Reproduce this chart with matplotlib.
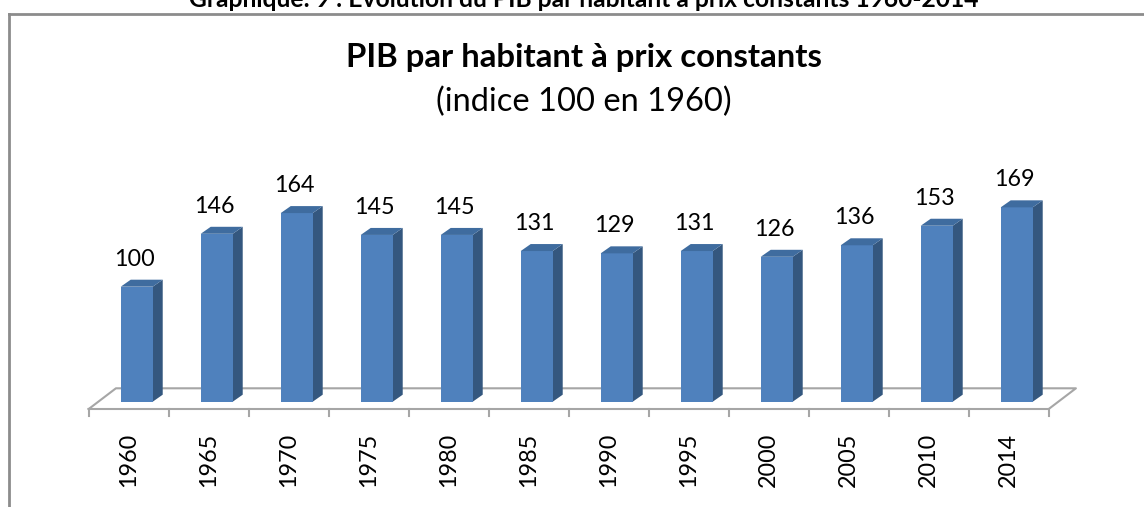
import matplotlib
matplotlib.use("Agg")
import matplotlib.pyplot as plt
from matplotlib.patches import Polygon
from matplotlib.lines import Line2D

years = ["1960", "1965", "1970", "1975", "1980", "1985",
         "1990", "1995", "2000", "2005", "2010", "2014"]
values = [100, 146, 164, 145, 145, 131, 129, 131, 126, 136, 153, 169]

FRONT = "#4F81BD"
SIDE = "#34577F"
TOP = "#3F6C9F"
GRID = "#A6A6A6"

plt.rcParams["font.family"] = ["Lato", "DejaVu Sans"]

fig = plt.figure(figsize=(11.44, 5.07), dpi=100)
ax = fig.add_axes([0, 0, 1, 1])
ax.set_xlim(-1.709, 12.591)
ax.set_ylim(-91.57, 349.3)
ax.axis("off")

bar_w = 0.4
dx, dy = 0.125, 6.09          # bar depth (x units, value units)
fdx, fdy = 0.34, 18.0         # floor depth
floor_y = -6.35
n = len(values)
x = list(range(n))

# floor
x0, x1 = -0.6, n - 0.6
floor = [(x0, floor_y), (x1, floor_y), (x1 + fdx, floor_y + fdy),
         (x0 + fdx, floor_y + fdy), (x0, floor_y)]
ax.plot([p[0] for p in floor], [p[1] for p in floor], color=GRID, lw=1.5, zorder=1)
for k in range(n + 1):
    ax.plot([x0 + k, x0 + k], [floor_y, floor_y - 6.0], color=GRID, lw=1.5, zorder=1)

# bars: front faces through ax.bar, side and top from the same data
ax.bar(x, values, width=bar_w, color=FRONT, zorder=3)
for i, v in zip(x, values):
    l, r = i - bar_w / 2, i + bar_w / 2
    side = [(r, 0), (r + dx, dy), (r + dx, v + dy), (r, v)]
    top = [(l, v), (r, v), (r + dx, v + dy), (l + dx, v + dy)]
    ax.add_patch(Polygon(side, closed=True, facecolor=SIDE, edgecolor="none", zorder=2))
    ax.add_patch(Polygon(top, closed=True, facecolor=TOP, edgecolor="none", zorder=4))
    ax.text(i - 0.03, v + 14.8, str(v), ha="center", va="bottom",
            fontsize=16.8, color="black", zorder=5)

for i, lab in zip(x, years):
    ax.text(i - 0.1, -27.2, lab, rotation=90, ha="center", va="top",
            fontsize=16.8, color="black")

# titles
fig.text(0.51, 0.8679, "PIB par habitant à prix constants", ha="center",
         va="baseline", fontsize=23.7, fontweight="bold")
fig.text(0.51, 0.781, "(indice 100 en 1960)", ha="center", va="baseline",
         fontsize=23.5)
fig.text(0.51, 0.986, "Graphique: 9 : Evolution du PIB par habitant à prix constants 1960-2014",
         ha="center", va="baseline", fontsize=17.7, fontweight="bold")

# chart frame (left and top edges visible)
fx, fy = 8.5 / 1144, (507 - 13.5) / 507
fig.add_artist(Line2D([fx, fx], [0, fy], transform=fig.transFigure, color="#8C8C8C", lw=2))
fig.add_artist(Line2D([fx, 1], [fy, fy], transform=fig.transFigure, color="#8C8C8C", lw=2))

fig.savefig("out.png", dpi=100)
